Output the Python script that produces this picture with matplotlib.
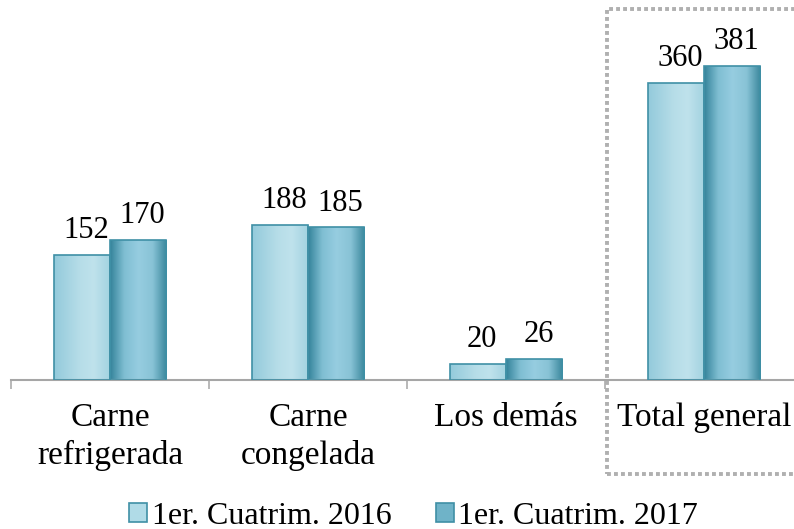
import numpy as np
import matplotlib
matplotlib.use('Agg')
import matplotlib.pyplot as plt
from matplotlib.colors import LinearSegmentedColormap
from matplotlib.patches import Rectangle, Patch

# datos
categorias = ['Carne\nrefrigerada', 'Carne\ncongelada', 'Los demás', 'Total general']
serie_2016 = [152, 188, 20, 360]
serie_2017 = [170, 185, 26, 381]
leyenda = ['1er. Cuatrim. 2016', '1er. Cuatrim. 2017']

plt.rcParams['font.family'] = ['Liberation Serif', 'DejaVu Serif']
plt.rcParams['font.size'] = 22

# degradados horizontales de las barras
cmap_2016 = LinearSegmentedColormap.from_list(
    'c2016', [(0, '#93cadb'), (0.45, '#b6dde8'), (0.7, '#bfe2ec'), (1, '#a1d2e0')])
cmap_2017 = LinearSegmentedColormap.from_list(
    'c2017', [(0, '#34839a'), (0.25, '#7fbed2'), (0.5, '#96cde0'), (0.75, '#88c3d6'), (1, '#39869b')])
borde = '#3f90a6'

fig = plt.figure(figsize=(7.94, 5.29), dpi=100)
ax = fig.add_axes([11 / 794, 149 / 529, 783 / 794, 380 / 529])

x = np.arange(len(categorias))
w = 0.285
grad = np.linspace(0, 1, 256).reshape(1, -1)

for desplaz, valores, cmap in [(-w / 2, serie_2016, cmap_2016), (w / 2, serie_2017, cmap_2017)]:
    barras = ax.bar(x + desplaz, valores, w, facecolor='none', edgecolor=borde, linewidth=1.2, zorder=3)
    for rect, v in zip(barras, valores):
        x0 = rect.get_x()
        im = ax.imshow(grad, cmap=cmap, aspect='auto', extent=(x0, x0 + w, 0, v), zorder=2)
        im.set_clip_path(rect)
        ax.annotate(str(v), (x0 + w / 2, v), xytext=(3, 7), textcoords='offset points',
                    ha='center', va='bottom', fontsize=22)

ax.set_xlim(-0.5, -0.5 + 783 / 198)
ax.set_ylim(0, 380 / 0.825)

for lado in ['top', 'right', 'left']:
    ax.spines[lado].set_visible(False)
ax.spines['bottom'].set_color('#a6a6a6')
ax.spines['bottom'].set_linewidth(1.5)
ax.set_yticks([])
ax.set_xticks(x, categorias, fontsize=24)
ax.set_xticks([-0.5, 0.5, 1.5, 2.5], minor=True)
ax.tick_params(axis='x', which='major', length=0, pad=16)
ax.tick_params(axis='x', which='minor', length=6.5, width=1.1, color='#a6a6a6')
for t in ax.get_xticklabels():
    t.set_linespacing(1.3)

# recuadro punteado de "Total general"
caja = Rectangle((607 / 794, 55 / 529), 0.3, 465 / 529, transform=fig.transFigure,
                 fill=False, edgecolor='#b0b0b0', linewidth=2.8, linestyle=(0, (1, 0.8)))
caja.set_capstyle('butt')
fig.add_artist(caja)

handles = [Patch(facecolor='#b0dbe7', edgecolor=borde, linewidth=1.2),
           Patch(facecolor='#6fb3c8', edgecolor=borde, linewidth=1.2)]
fig.legend(handles, leyenda, loc='center', bbox_to_anchor=(0.521, 13 / 529), ncol=2,
           frameon=False, handlelength=0.55, handleheight=0.55, handletextpad=0.15,
           columnspacing=1.4, borderaxespad=0, borderpad=0, fontsize=23)

fig.savefig('out.png', dpi=100)
